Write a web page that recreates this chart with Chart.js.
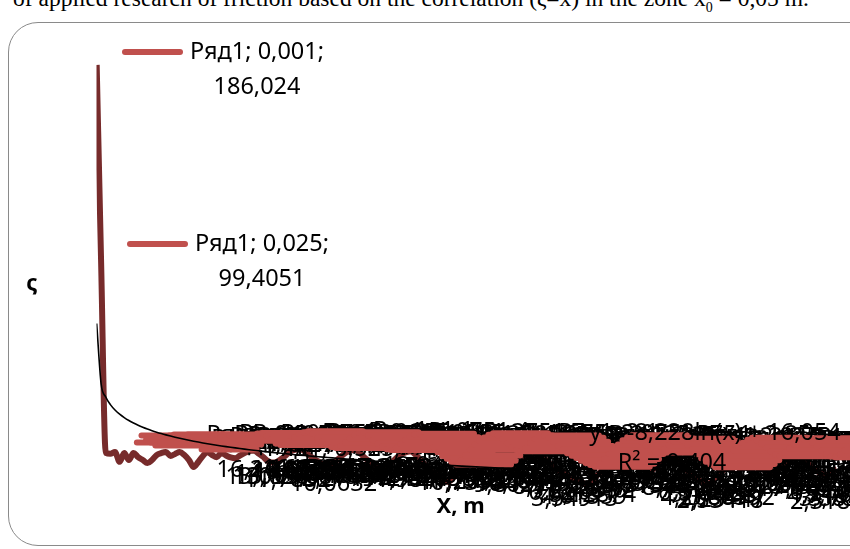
<!DOCTYPE html>
<html>
<head>
<meta charset="utf-8">
<script src="https://cdn.jsdelivr.net/npm/chart.js@4.4.1/dist/chart.umd.min.js"></script>
<style>
  html, body { margin: 0; padding: 0; background: #fff; overflow: hidden; }
  body { width: 850px; height: 549px; position: relative; }
  #caption { position: absolute; left: 13px; top: -13px; font: 23.5px "Liberation Serif", "DejaVu Serif", serif; color: #000; white-space: nowrap; line-height: 22px; }
  #frame { position: absolute; left: 8px; top: 22px; width: 900px; height: 524px; border: 1.5px solid #8a8a8a; border-radius: 30px; box-sizing: border-box; }
  #wrap { position: absolute; left: 0; top: 0; width: 850px; height: 549px; }
</style>
</head>
<body>
<div id="caption">of applied research of friction based on the correlation (ς=x) in the zone x<sub style="font-size:14px">0</sub> = 0,05 m.</div>
<div id="frame"></div>
<div id="wrap"><canvas id="chart"></canvas></div>
<script>
// Ряд1 : X, m
var xValues = [0.001, 0.025,
    0.05, 0.075, 0.1, 0.125, 0.15, 0.175, 0.2, 0.225,
    0.25, 0.275, 0.3, 0.325, 0.35, 0.375, 0.4, 0.425,
    0.45, 0.475, 0.5, 0.525, 0.55, 0.575, 0.6, 0.625,
    0.65, 0.675, 0.7,
    0.725, 0.75, 0.775, 0.8, 0.825, 0.85, 0.875, 0.9,
    0.925, 0.95, 0.975, 1.0, 1.025, 1.05, 1.075, 1.1,
    1.125, 1.15, 1.175, 1.2, 1.225, 1.25, 1.275, 1.3,
    1.325, 1.35, 1.375, 1.4, 1.425, 1.45, 1.475, 1.5,
    1.525, 1.55, 1.575, 1.6, 1.625, 1.65, 1.675, 1.7,
    1.725, 1.75, 1.775, 1.8, 1.825, 1.85, 1.875, 1.9,
    1.925, 1.95, 1.975, 2.0, 2.025, 2.05, 2.075, 2.1,
    2.125, 2.15, 2.175, 2.2, 2.225, 2.25, 2.275, 2.3,
    2.325, 2.35, 2.375, 2.4, 2.425, 2.45, 2.475, 2.5,
    2.525, 2.55, 2.575, 2.6, 2.625, 2.65, 2.675, 2.7,
    2.725, 2.75, 2.775, 2.8, 2.825, 2.85, 2.875, 2.9,
    2.925, 2.95, 2.975, 3.0, 3.025, 3.05, 3.075, 3.1,
    3.125, 3.15, 3.175, 3.2, 3.225, 3.25, 3.275, 3.3,
    3.325, 3.35, 3.375, 3.4, 3.425, 3.45, 3.475, 3.5,
    3.525, 3.55, 3.575, 3.6, 3.625, 3.65, 3.675, 3.7,
    3.725, 3.75, 3.775, 3.8, 3.825, 3.85, 3.875, 3.9,
    3.925, 3.95, 3.975, 4.0];

// Ряд1 : ς
var yValues = [186.024, 99.4051,
    16.2154, 15.8327, 16.6041, 12.3186, 16.1892, 13.0937, 16.2418, 14.4105,
    13.1276, 11.7852, 13.0964, 15.3071, 16.1738, 16.6292, 14.9283, 15.7946,
    16.5817, 15.2964, 13.0815, 10.0632, 12.2749, 14.9037, 16.5928, 15.3184,
    14.3762, 16.2045, 15.1183,
    14.2318, 13.8421, 15.0694, 16.1275, 17.0283, 17.3106, 15.9842, 14.5523,
    12.7316, 11.9847, 12.3205, 13.6609, 15.2917, 16.8832, 17.6124, 18.0417,
    16.9038, 15.2236, 13.6471, 12.4581, 11.2093, 10.7395, 11.5862, 13.1168,
    14.8347, 16.4902, 17.2931, 17.6253, 16.1487, 14.0771, 12.6035, 11.3384,
    10.1926, 9.86217, 10.8754, 12.5049, 14.2613, 15.7738, 16.6129, 16.9415,
    15.3872, 13.2857, 11.0476, 8.91326, 7.26481, 6.02751, 4.61359, 3.54913,
    5.12874, 7.48392, 9.93165, 12.1564, 13.8479, 15.3307, 16.5241, 17.2082,
    16.1976, 14.6637, 12.8514, 11.0923, 9.87342, 9.31548, 10.7129, 12.8706,
    14.6253, 16.0129, 16.1847, 15.1954, 13.4389, 11.6218, 9.93724, 8.44173,
    7.30961, 6.31092, 5.17438, 4.20865, 3.25147, 2.53418, 3.86792, 5.86241,
    8.04517, 10.2873, 12.3064, 14.1196, 15.4782, 16.3348, 15.2193, 13.5061,
    11.7235, 10.0842, 9.12376, 8.72519, 10.1847, 11.9336, 13.5628, 14.8015,
    13.7342, 12.2479, 10.0716, 7.96534, 6.21483, 4.71826, 3.38517, 2.31862,
    3.70245, 5.40917, 7.51368, 9.66283, 11.4972, 13.0457, 14.3681, 15.2208,
    14.1536, 12.7143, 10.8827, 9.20475, 7.91382, 7.13628, 8.64217, 10.5519,
    12.3184, 13.8864, 14.6025, 14.9372, 13.1496, 11.3645, 9.55913, 8.05291,
    7.01846, 6.62437, 7.92158, 9.74816];

var seriesName = "Ряд1";

// логарифмическая линия тренда (как подписано на графике)
var trendA = -8.228;
var trendB = 16.054;
var trendText = ["y = -8,228ln(x) + 16,054", "R² = 0,404"];

var xTitle = "X, m";
var yTitle = "ς";

// подписи точек с x меньше этого значения удалены (кроме двух первых, перенесённых вручную)
var labelFrom = 0.175;
var movedLabels = { 0: { left: 125, mid: 52 }, 1: { left: 130, mid: 244 } };

var labelFont = '23.5px "Noto Sans"';
var keyColor = '#C0504D';

function fmt(v) {
    return String(v).replace('.', ',');
}

function drawLabel(ctx, i, left, mid) {
    ctx.strokeStyle = keyColor;
    ctx.lineWidth = 6;
    ctx.lineCap = 'round';
    ctx.beginPath();
    ctx.moveTo(left, mid);
    ctx.lineTo(left + 55, mid);
    ctx.stroke();

    var line1 = seriesName + "; " + fmt(xValues[i]) + ";";
    var line2 = fmt(yValues[i]);
    var tx = left + 65;
    var w1 = ctx.measureText(line1).width;
    ctx.fillStyle = '#000';
    ctx.textBaseline = 'middle';
    ctx.textAlign = 'left';
    ctx.fillText(line1, tx, mid);
    ctx.textAlign = 'center';
    ctx.fillText(line2, tx + w1 / 2, mid + 35);
}

var labelPlugin = {
    id: 'pointLabels',
    afterDatasetDraw: function(chart, args) {
        if (args.index !== 0) return;
        var ctx = chart.ctx;
        ctx.save();
        ctx.font = labelFont;
        args.meta.data.forEach(function(pt, i) {
            if (movedLabels[i]) {
                drawLabel(ctx, i, movedLabels[i].left, movedLabels[i].mid);
            } else if (xValues[i] >= labelFrom) {
                drawLabel(ctx, i, pt.x + 8, pt.y - 17.5);
            }
        });
        ctx.restore();
    },
    afterDatasetsDraw: function(chart) {
        var ctx = chart.ctx;
        var area = chart.chartArea;
        ctx.save();
        // подпись тренда
        ctx.font = labelFont;
        ctx.fillStyle = '#000';
        ctx.textBaseline = 'middle';
        ctx.textAlign = 'center';
        ctx.fillText(trendText[0], 715, 433);
        ctx.fillText(trendText[1], 672, 463);
        // названия осей
        ctx.font = 'bold 22px "Noto Sans"';
        ctx.fillText(yTitle, 32, 284);
        ctx.fillText(xTitle, (area.left + area.right) / 2 - 6, 507);
        ctx.restore();
    }
};

var points = xValues.map(function(x, i) { return { x: x, y: yValues[i] }; });
var trendPoints = xValues.map(function(x) { return { x: x, y: trendA * Math.log(x) + trendB }; });

var ctx = document.getElementById("chart").getContext("2d");
var myChart = new Chart(ctx, {
    type: 'scatter',
    data: {
        datasets: [{
            label: seriesName,
            data: points,
            showLine: true,
            borderColor: '#772B2B',
            borderWidth: 6,
            pointRadius: 0,
            cubicInterpolationMode: 'monotone',
            order: 2
        }, {
            label: 'trend',
            data: trendPoints,
            showLine: true,
            borderColor: '#000',
            borderWidth: 1.6,
            pointRadius: 0,
            cubicInterpolationMode: 'monotone',
            order: 1
        }]
    },
    options: {
        responsive: true,
        maintainAspectRatio: false,
        animation: false,
        layout: { padding: { left: 96.5, right: 13.5, top: 33, bottom: 59 } },
        plugins: { legend: { display: false }, tooltip: { enabled: false } },
        scales: {
            x: { type: 'linear', min: 0, max: 4, display: false },
            y: { min: 0, max: 200, display: false }
        }
    },
    plugins: [labelPlugin]
});
</script>
</body>
</html>
